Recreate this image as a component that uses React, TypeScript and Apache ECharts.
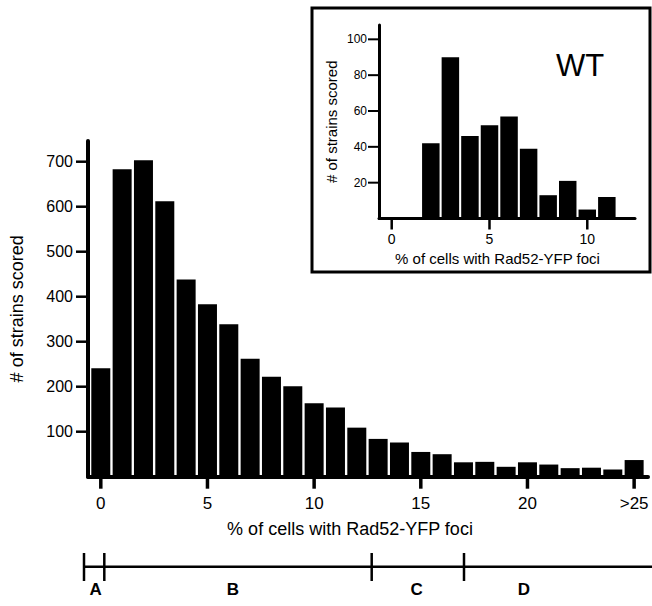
import React, { useEffect, useRef } from "react";
import * as echarts from "echarts";

// Main histogram: % of cells with Rad52-YFP foci (bins 0..25, last bin ">25")
const mainBins = [0, 1, 2, 3, 4, 5, 6, 7, 8, 9, 10, 11, 12, 13, 14, 15, 16, 17, 18, 19, 20, 21, 22, 23, 24, 25];
const mainCounts = [241, 683, 703, 612, 438, 383, 339, 262, 222, 201, 163, 154, 109, 84, 76, 55, 50, 32, 33, 22, 32, 27, 19, 20, 16, 37];
const mainXTicks = [0, 5, 10, 15, 20, 25];
const mainYTicks = [100, 200, 300, 400, 500, 600, 700];

// Inset (WT)
const insetBins = [0, 1, 2, 3, 4, 5, 6, 7, 8, 9, 10, 11];
const insetCounts = [0, 0, 42, 90, 46, 52, 57, 39, 13, 21, 5, 12];
const insetXTicks = [0, 5, 10];
const insetYTicks = [20, 40, 60, 80, 100];

// Class ranges below the axis
const classLabels = ["A", "B", "C", "D"];

const xTitle = "% of cells with Rad52-YFP foci";
const yTitle = "# of strains scored";
const FONT = "'Liberation Sans', Arial, Helvetica, sans-serif";
const black = "#000";

const W = 652;
const H = 606;
// grid geometry + axis extents
const M = { left: 88, right: 4, top: 141, bottom: 129.3, xMin: -0.6, xMax: 25.65, yMax: 746 };
const I = { left: 379, right: 17, top: 25, bottom: 387.5, xMin: -0.65, xMax: 12.44, yMax: 108 };

function xPos(g: any, v: number) {
  return g.left + ((v - g.xMin) / (g.xMax - g.xMin)) * (W - g.left - g.right);
}
function yPos(g: any, v: number) {
  const b = H - g.bottom;
  return b - (v / g.yMax) * (b - g.top);
}

export default function App() {
  const ref = useRef<HTMLDivElement>(null);
  useEffect(() => {
    if (!ref.current) return;
    const chart = echarts.init(ref.current, undefined, { renderer: "svg" });

    const tickRects: any[] = [];
    const xTicks = (g: any, vals: number[], len: number, w: number) =>
      vals.forEach((v) => {
        const x = xPos(g, v);
        const y0 = yPos(g, 0);
        tickRects.push({
          type: "rect",
          z: 50,
          shape: { x: x - w / 2, y: y0, width: w, height: len },
          style: { fill: black },
        });
      });
    const yTicks = (g: any, vals: number[], len: number, w: number) =>
      vals.forEach((v) => {
        const y = yPos(g, v);
        tickRects.push({
          type: "rect",
          z: 50,
          shape: { x: g.left - len, y: y - w / 2, width: len, height: w },
          style: { fill: black },
        });
      });
    xTicks(M, mainXTicks, 12, 3.5);
    xTicks(I, insetXTicks, 11, 2.5);
    yTicks(M, mainYTicks, 12, 2.5);
    yTicks(I, insetYTicks, 11, 2);

    const option: any = {
      animation: false,
      textStyle: { fontFamily: FONT, color: black },
      grid: [
        { left: M.left, top: M.top, right: M.right, bottom: M.bottom },
        { left: I.left, top: I.top, right: I.right, bottom: I.bottom },
      ],
      xAxis: [
        {
          gridIndex: 0,
          type: "value",
          min: M.xMin,
          max: M.xMax,
          axisLine: { onZero: false, lineStyle: { color: black, width: 4 } },
          axisTick: { show: false },
          axisLabel: {
            customValues: mainXTicks,
            formatter: (v: number) => (v === mainXTicks[mainXTicks.length - 1] ? ">" + v : String(v)),
            fontSize: 17,
            margin: 18,
            color: black,
            fontFamily: FONT,
          },
          splitLine: { show: false },
          name: xTitle,
          nameLocation: "middle",
          nameGap: 43,
          nameTextStyle: { fontSize: 18, color: black, fontFamily: FONT, padding: [0, 36, 0, 0] },
        },
        {
          gridIndex: 1,
          type: "value",
          min: I.xMin,
          max: I.xMax,
          axisLine: { onZero: false, lineStyle: { color: black, width: 3 } },
          axisTick: { show: false },
          axisLabel: { customValues: insetXTicks, fontSize: 14, margin: 13, color: black, fontFamily: FONT },
          splitLine: { show: false },
          name: xTitle,
          nameLocation: "middle",
          nameGap: 32,
          nameTextStyle: { fontSize: 15, color: black, fontFamily: FONT, padding: [0, 19, 0, 0] },
        },
      ],
      yAxis: [
        {
          gridIndex: 0,
          type: "value",
          min: 0,
          max: M.yMax,
          axisLine: { show: true, onZero: false, lineStyle: { color: black, width: 4 } },
          axisTick: { show: false },
          axisLabel: { customValues: mainYTicks, fontSize: 16, margin: 15, color: black, fontFamily: FONT },
          splitLine: { show: false },
          name: yTitle,
          nameLocation: "middle",
          nameGap: 62,
          nameTextStyle: { fontSize: 18, color: black, fontFamily: FONT },
        },
        {
          gridIndex: 1,
          type: "value",
          min: 0,
          max: I.yMax,
          axisLine: { show: true, onZero: false, lineStyle: { color: black, width: 3 } },
          axisTick: { show: false },
          axisLabel: { customValues: insetYTicks, fontSize: 12, margin: 12, color: black, fontFamily: FONT },
          splitLine: { show: false },
          name: yTitle,
          nameLocation: "middle",
          nameGap: 40,
          nameTextStyle: { fontSize: 15, color: black, fontFamily: FONT },
        },
      ],
      series: [
        {
          type: "bar",
          xAxisIndex: 0,
          yAxisIndex: 0,
          barWidth: 19,
          itemStyle: { color: black },
          data: mainBins.map((b, i) => [b, mainCounts[i]]),
        },
        {
          type: "bar",
          xAxisIndex: 1,
          yAxisIndex: 1,
          barWidth: 17.5,
          itemStyle: { color: black },
          data: insetBins.map((b, i) => [b, insetCounts[i]]),
        },
      ],
      graphic: [
        ...tickRects,
        {
          type: "rect",
          shape: { x: 312, y: 8, width: 338, height: 264 },
          style: { fill: "none", stroke: black, lineWidth: 3 },
        },
        {
          type: "text",
          x: 580,
          y: 65,
          style: { text: "WT", fontSize: 31, fontFamily: FONT, fill: black, textAlign: "center", textVerticalAlign: "middle" },
        },
        {
          type: "line",
          shape: { x1: 84, y1: 566.7, x2: 652, y2: 566.7 },
          style: { stroke: black, lineWidth: 2.5 },
        },
        ...[84, 104.3, 371.7, 464].map((x) => ({
          type: "line",
          shape: { x1: x, y1: 553, x2: x, y2: 581 },
          style: { stroke: black, lineWidth: 2.5 },
        })),
        ...classLabels.map((t, i) => ({
          type: "text",
          x: [95.7, 233, 416.7, 524][i],
          y: 589.5,
          style: {
            text: t,
            fontSize: 17,
            fontWeight: "bold",
            fontFamily: FONT,
            fill: black,
            textAlign: "center",
            textVerticalAlign: "middle",
          },
        })),
      ],
    };
    chart.setOption(option);
    return () => chart.dispose();
  }, []);
  return (
    <div
      ref={ref}
      style={{ position: "absolute", left: 0, top: 0, width: W, height: H, background: "#fff" }}
    />
  );
}
